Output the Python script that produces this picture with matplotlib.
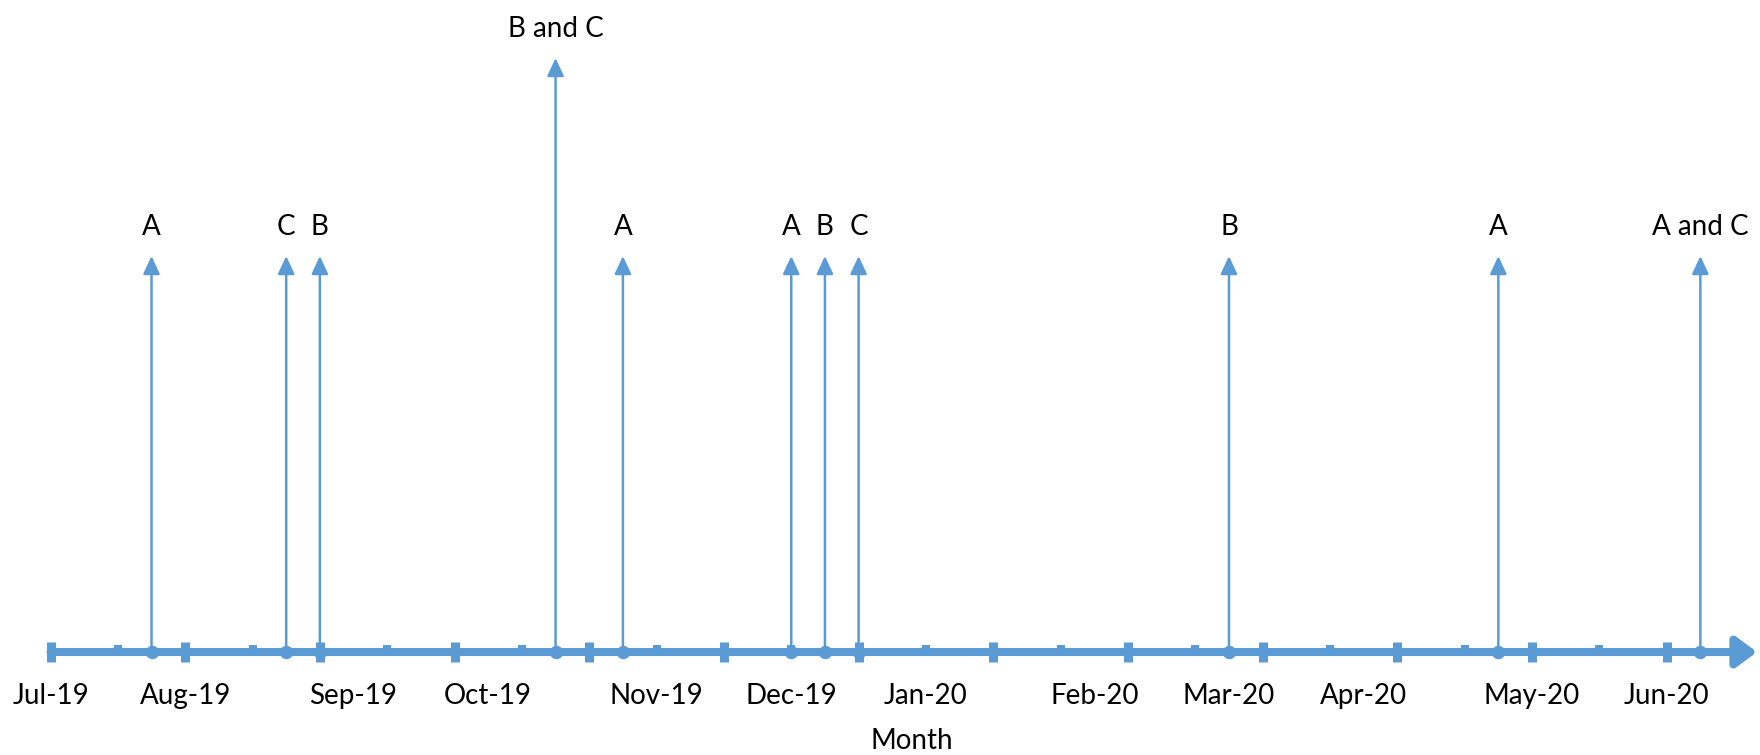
"""Timeline of A/B/C events, Jul-19 to Jun-20 (weekly positions)."""

import matplotlib

matplotlib.use("Agg")
import matplotlib.pyplot as plt
from matplotlib.path import Path
from matplotlib.patches import ArrowStyle

# days counted from 1 Jul 2019
event_days = [21, 49, 56, 105, 119, 154, 161, 168, 245, 301, 343]
event_labels = ["A", "C", "B", "B and C", "A", "A", "B", "C", "B", "A", "A and C"]
event_heights = [2, 2, 2, 3, 2, 2, 2, 2, 2, 2, 2]

month_days = [0, 28, 63, 91, 126, 154, 182, 217, 245, 273, 308, 336]
month_labels = ["Jul-19", "Aug-19", "Sep-19", "Oct-19", "Nov-19", "Dec-19",
                "Jan-20", "Feb-20", "Mar-20", "Apr-20", "May-20", "Jun-20"]

major_ticks = list(range(0, 337, 28))
minor_ticks = list(range(14, 351, 28))
axis_end = 354.8

BLUE = "#5B9BD5"
PX = 72 / 100  # points per pixel at dpi 100

plt.rcParams["font.family"] = ["Lato", "DejaVu Sans"]

fig = plt.figure(figsize=(17.6, 7.55), dpi=100)
ax = fig.add_axes([0, 0, 1, 1])
ax.set_xlim(-10.5, 355.4)
ax.set_ylim(-0.52, 3.293)
ax.axis("off")

# main time axis with arrow head
ax.annotate("", xy=(axis_end, 0), xytext=(0, 0),
            arrowprops=dict(arrowstyle=ArrowStyle("-|>", head_length=17 * PX, head_width=12.5 * PX),
                            mutation_scale=1, color=BLUE, lw=8 * PX,
                            shrinkA=0, shrinkB=0))

# major ticks cross the line, minor ticks sit on top of it
ax.plot(major_ticks, [0] * len(major_ticks), ls="none", marker="|",
        markersize=20 * PX, markeredgewidth=9 * PX, color=BLUE)
up_tick = Path([(0, 0), (0, 1)])
ax.plot(minor_ticks, [0] * len(minor_ticks), ls="none", marker=up_tick,
        markersize=15 * PX, markeredgewidth=8 * PX, color=BLUE)

# event arrows
for day, h, lab in zip(event_days, event_heights, event_labels):
    ax.annotate("", xy=(day, h), xytext=(day, 0),
                arrowprops=dict(arrowstyle=ArrowStyle("-|>", head_length=15 * PX, head_width=7 * PX),
                                mutation_scale=1, color=BLUE, lw=2.5 * PX,
                                shrinkA=0, shrinkB=0))
    ax.annotate(lab, xy=(day, h), xytext=(0, 21 * PX), textcoords="offset points",
                ha="center", va="baseline", fontsize=20, color="black")
ax.plot(event_days, [0] * len(event_days), ls="none", marker="o",
        markersize=12 * PX, color=BLUE)

# month labels
for day, lab in zip(month_days, month_labels):
    ax.annotate(lab, xy=(day, 0), xytext=(0, -52 * PX), textcoords="offset points",
                ha="center", va="baseline", fontsize=20, color="black")

ax.annotate("Month", xy=(179.0, 0), xytext=(0, -97 * PX), textcoords="offset points",
            ha="center", va="baseline", fontsize=20, color="black")

fig.savefig("out.png", dpi=100)
